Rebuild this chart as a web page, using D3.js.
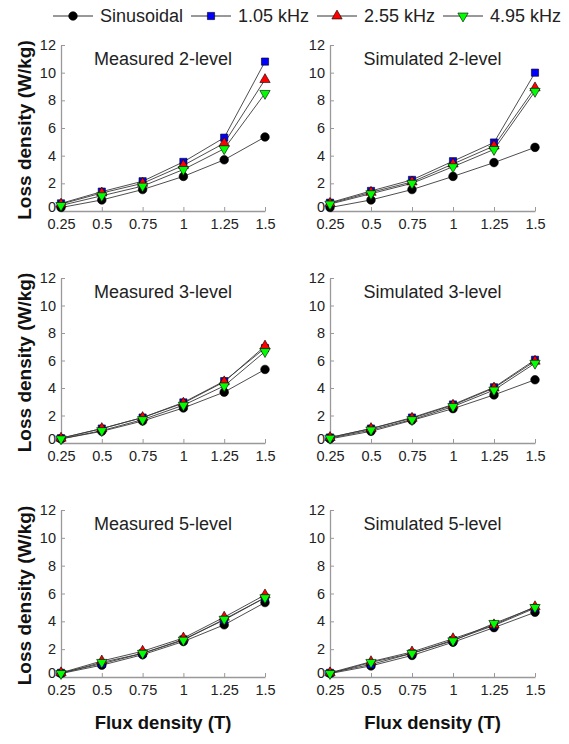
<!DOCTYPE html>
<html><head><meta charset="utf-8">
<script src="https://cdn.jsdelivr.net/npm/d3@7"></script>
<style>body{margin:0;background:#fff;}svg{display:block;font-family:"Liberation Sans",Arial,sans-serif;}</style>
</head><body>
<script>
const fluxTicks = [0.25, 0.5, 0.75, 1, 1.25, 1.5];
const yTicks = [0, 2, 4, 6, 8, 10, 12];
const seriesNames = ["Sinusoidal", "1.05 kHz", "2.55 kHz", "4.95 kHz"];
const panelTitles = ["Measured 2-level", "Simulated 2-level", "Measured 3-level", "Simulated 3-level", "Measured 5-level", "Simulated 5-level"];

const meas2 = [
  [0.25, 0.8, 1.55, 2.5, 3.7, 5.35],
  [0.55, 1.4, 2.15, 3.55, 5.3, 10.8],
  [0.5, 1.3, 2.0, 3.3, 4.9, 9.5],
  [0.4, 1.1, 1.8, 3.0, 4.5, 8.5]
];
const sim2 = [
  [0.25, 0.8, 1.55, 2.5, 3.5, 4.6],
  [0.6, 1.45, 2.25, 3.6, 4.95, 10.0],
  [0.55, 1.35, 2.1, 3.4, 4.7, 8.9],
  [0.5, 1.25, 2.0, 3.2, 4.45, 8.65]
];
const meas3 = [
  [0.3, 0.85, 1.6, 2.55, 3.7, 5.35],
  [0.35, 1.05, 1.85, 2.95, 4.5, 6.9],
  [0.35, 1.05, 1.85, 2.9, 4.45, 7.05],
  [0.3, 0.9, 1.7, 2.75, 4.15, 6.65]
];
const sim3 = [
  [0.3, 0.85, 1.65, 2.5, 3.5, 4.6],
  [0.4, 1.05, 1.85, 2.8, 4.05, 6.05],
  [0.4, 1.05, 1.8, 2.75, 4.0, 5.95],
  [0.35, 0.95, 1.7, 2.65, 3.85, 5.8]
];
const meas5 = [
  [0.25, 0.85, 1.6, 2.55, 3.75, 5.35],
  [0.3, 0.95, 1.7, 2.7, 4.1, 5.7],
  [0.3, 1.15, 1.85, 2.8, 4.3, 5.9],
  [0.25, 1.05, 1.7, 2.65, 4.15, 5.7]
];
const sim5 = [
  [0.25, 0.8, 1.55, 2.5, 3.55, 4.65],
  [0.3, 0.9, 1.7, 2.65, 3.7, 4.95],
  [0.3, 1.1, 1.8, 2.75, 3.75, 5.05],
  [0.25, 1.05, 1.7, 2.6, 3.85, 5.0]
];
const panelData = [meas2, sim2, meas3, sim3, meas5, sim5];

const markerShapes = [d3.symbolCircle, d3.symbolSquare, d3.symbolTriangle, d3.symbolTriangle];
const markerFill = ["#000000", "#0000ff", "#ff0000", "#00ff00"];
const markerSize = [58, 52, 46, 46];
const markerRot = [0, 0, 0, 180];

const W = 569, H = 744;
const svg = d3.select("body").append("svg").attr("width", W).attr("height", H);

const colX = [[61, 265], [330, 535]];
const rowY = [[211, 45], [443, 278], [677, 510]];

function marker(g, i, x, y) {
  g.append("path")
    .attr("d", d3.symbol().type(markerShapes[i]).size(markerSize[i])())
    .attr("transform", `translate(${x},${y}) rotate(${markerRot[i]})`)
    .attr("fill", markerFill[i])
    .attr("stroke", "#000").attr("stroke-width", 0.6);
}

panelData.forEach((data, p) => {
  const c = p % 2, r = Math.floor(p / 2);
  const x = d3.scaleLinear().domain([0.25, 1.5]).range(colX[c]);
  const y = d3.scaleLinear().domain([0, 12]).range(rowY[r]);
  const g = svg.append("g");

  const xAxis = g.append("g").attr("transform", `translate(0,${rowY[r][0]})`)
    .call(d3.axisBottom(x).tickValues(fluxTicks).tickSizeInner(-4).tickSizeOuter(0).tickFormat(d3.format("")));
  const yAxis = g.append("g").attr("transform", `translate(${colX[c][0]},0)`)
    .call(d3.axisLeft(y).tickValues(yTicks).tickSizeInner(-4).tickSizeOuter(0));
  [xAxis, yAxis].forEach(a => {
    a.select(".domain").attr("stroke", "#999").attr("stroke-width", 1.3);
    a.selectAll(".tick line").attr("stroke", "#999");
    a.selectAll("text").attr("fill", "#222").style("font-size", "14.5px").style("font-family", "Liberation Sans, Arial, sans-serif");
  });
  xAxis.selectAll("text").attr("y", 8);
  yAxis.selectAll("text").attr("x", -5);
  yAxis.selectAll(".tick").filter(d => d === 0).select("text").attr("dy", "0.05em");

  g.append("text").attr("x", (colX[c][0] + colX[c][1]) / 2).attr("y", rowY[r][1] + 20)
    .attr("text-anchor", "middle").style("font-size", "18px").attr("fill", "#222").text(panelTitles[p]);

  const line = d3.line().x((d, k) => x(fluxTicks[k])).y(d => y(d));
  data.forEach(s => {
    g.append("path").attr("d", line(s)).attr("fill", "none").attr("stroke", "#3a3a3a").attr("stroke-width", 0.9);
  });
  data.forEach((s, i) => {
    s.forEach((v, k) => marker(g, i, x(fluxTicks[k]), y(v)));
  });

  if (c === 0) {
    const cy = (rowY[r][0] + rowY[r][1]) / 2 + 2;
    g.append("text").attr("transform", `translate(31,${cy}) rotate(-90)`)
      .attr("text-anchor", "middle").style("font-size", "19px").style("font-weight", "bold")
      .attr("fill", "#111").text("Loss density (W/kg)");
  }
  if (r === 2) {
    g.append("text").attr("x", (colX[c][0] + colX[c][1]) / 2).attr("y", 729)
      .attr("text-anchor", "middle").style("font-size", "18.5px").style("font-weight", "bold")
      .attr("fill", "#111").text("Flux density (T)");
  }
});

// legend
const legX = [53, 191, 317, 443];
const leg = svg.append("g");
seriesNames.forEach((name, i) => {
  const lx = legX[i], ly = 16;
  leg.append("line").attr("x1", lx).attr("x2", lx + 40).attr("y1", ly).attr("y2", ly)
    .attr("stroke", "#333").attr("stroke-width", 1);
  marker(leg, i, lx + 20, ly);
  leg.append("text").attr("x", lx + 47).attr("y", ly + 6).style("font-size", "18px").attr("fill", "#222").text(name);
});
</script>
</body></html>
